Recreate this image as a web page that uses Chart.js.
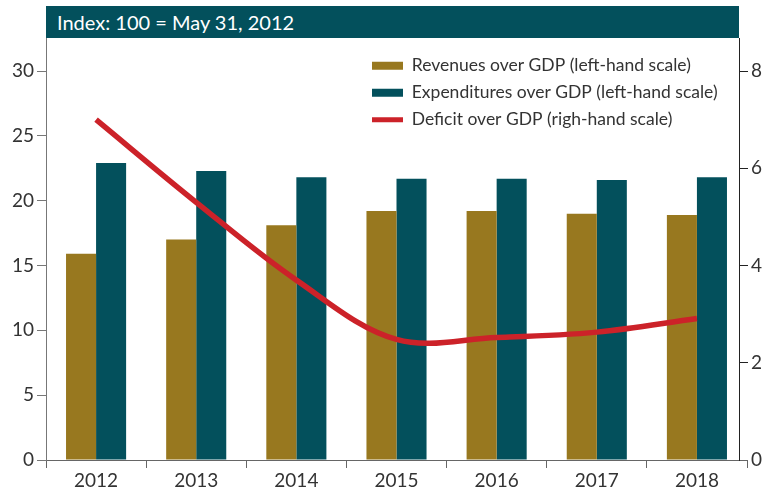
<!DOCTYPE html>
<html>
<head>
<meta charset="utf-8">
<script src="https://cdn.jsdelivr.net/npm/chart.js@4.4.1/dist/chart.umd.min.js"></script>
<style>
  html, body { margin: 0; padding: 0; background: #fff; }
  #wrap { position: relative; width: 777px; height: 489px; }
  #header {
    position: absolute; left: 46px; top: 6px; width: 682px; height: 32px;
    padding-left: 11px; background: #03505c; color: #fff;
    font: 20px Lato, sans-serif; line-height: 32px;
  }
  canvas { position: absolute; left: 0; top: 0; }
</style>
</head>
<body>
<div id="wrap">
  <canvas id="myChart" width="777" height="489"></canvas>
  <div id="header">Index: 100 = May 31, 2012</div>
</div>
<script>
var years = ['2012', '2013', '2014', '2015', '2016', '2017', '2018'];
var revenues = [15.9, 17.0, 18.1, 19.2, 19.2, 19.0, 18.9];
var expenditures = [22.9, 22.3, 21.8, 21.7, 21.7, 21.6, 21.8];
var deficit = [7.0, 5.3, 3.7, 2.48, 2.52, 2.63, 2.91];
var leftTicks = [0, 5, 10, 15, 20, 25, 30];
var rightTicks = [0, 2, 4, 6, 8];

var textColor = '#333333';
Chart.defaults.font.family = 'Lato, sans-serif';
Chart.defaults.color = textColor;

// plot runs a bit past the right-hand axis in the original, and the legend sits inside the plot
var placeBoxes = {
    id: 'placeBoxes',
    afterLayout: function(chart) {
        var x = chart.scales.x;
        x.right = 747;
        x.width = x.right - x.left;
        x.configure();

        var lg = chart.legend;
        if (lg) {
            lg.left = 362.5;
            lg.top = 47.5;
            lg.right = lg.left + lg.width;
            lg.bottom = lg.top + 100;
        }
    }
};

var config = {
    data: {
        labels: years,
        datasets: [{
            type: 'bar',
            label: 'Revenues over GDP (left-hand scale)',
            data: revenues,
            backgroundColor: '#98781f',
            yAxisID: 'y'
        }, {
            type: 'bar',
            label: 'Expenditures over GDP (left-hand scale)',
            data: expenditures,
            backgroundColor: '#03505c',
            yAxisID: 'y'
        }, {
            type: 'line',
            label: 'Deficit over GDP (righ-hand scale)',
            data: deficit,
            borderColor: '#cc2229',
            backgroundColor: '#cc2229',
            borderWidth: 5.5,
            borderCapStyle: 'butt',
            tension: 0.35,
            pointRadius: 0,
            yAxisID: 'y2',
            order: -1
        }]
    },
    options: {
        responsive: false,
        animation: false,
        layout: { padding: { top: 38, left: 0, right: 0, bottom: 0 } },
        datasets: {
            bar: { categoryPercentage: 0.6, barPercentage: 1.0 }
        },
        plugins: {
            tooltip: { enabled: false },
            legend: {
                position: 'chartArea',
                align: 'start',
                labels: {
                    usePointStyle: true,
                    pointStyleWidth: 31,
                    boxHeight: 8,
                    padding: 9.5,
                    color: textColor,
                    font: { size: 17.5 },
                    generateLabels: function(chart) {
                        return chart.data.datasets.map(function(ds, i) {
                            var isLine = ds.type === 'line';
                            return {
                                text: ds.label,
                                fillStyle: ds.backgroundColor,
                                strokeStyle: ds.backgroundColor,
                                lineWidth: isLine ? 5 : 0,
                                pointStyle: isLine ? 'line' : 'rect',
                                fontColor: textColor,
                                hidden: false,
                                datasetIndex: i
                            };
                        });
                    }
                }
            }
        },
        scales: {
            x: {
                type: 'category',
                offset: true,
                grid: { offset: true, drawOnChartArea: false, tickLength: 8, color: '#666' },
                border: { color: '#666', width: 1 },
                ticks: { font: { size: 19 }, padding: 1, maxRotation: 0, color: textColor },
                afterFit: function(s) { s.height = 29; }
            },
            y: {
                position: 'left',
                min: 0,
                max: 32.55,
                afterBuildTicks: function(s) {
                    s.ticks = leftTicks.map(function(v) { return { value: v }; });
                },
                grid: { drawOnChartArea: false, tickLength: 9, color: '#777' },
                border: { color: '#777', width: 1 },
                ticks: { font: { size: 19 }, padding: 3, color: textColor },
                afterFit: function(s) { s.width = 46; }
            },
            y2: {
                position: 'right',
                min: 0,
                max: 8.68,
                afterBuildTicks: function(s) {
                    s.ticks = rightTicks.map(function(v) { return { value: v }; });
                },
                grid: { drawOnChartArea: false, tickLength: 9, color: '#222' },
                border: { color: '#222', width: 1 },
                ticks: { font: { size: 19 }, padding: 3, color: textColor },
                afterFit: function(s) { s.width = 38; }
            }
        }
    },
    plugins: [placeBoxes]
};

var myChart = new Chart(document.getElementById('myChart').getContext('2d'), config);
</script>
</body>
</html>
